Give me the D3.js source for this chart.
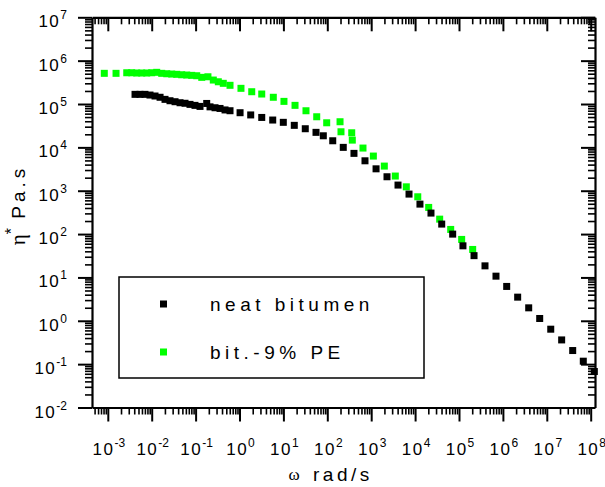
<!DOCTYPE html>
<html>
<head>
<meta charset="utf-8">
<script src="https://cdn.jsdelivr.net/npm/d3@7"></script>
<style>
  body { margin: 0; background: #fff; }
  svg { display: block; }
  .axis path, .axis line { stroke: #000; }
  .tlabel { font-family: "Liberation Sans", Arial, sans-serif; fill: #000; }
</style>
</head>
<body>
<svg id="chart"></svg>
<script>
// neat bitumen (black squares)
var neatOmega = [4.17e-3, 5.41e-3, 7.03e-3, 9.14e-3, 1.19e-2, 1.55e-2, 2.01e-2, 2.61e-2, 3.40e-2, 4.42e-2,
    5.74e-2, 7.45e-2, 9.68e-2, 0.126, 0.179, 0.213, 0.277, 0.360, 0.468, 0.608,
    1.03, 1.80, 3.21, 5.71, 9.95, 17.7, 31.5, 55.3, 81.1, 133,
    231, 405, 722, 1290, 2290, 4080, 7270, 1.29e4, 2.30e4, 4.04e4,
    7.18e4, 1.23e5, 2.20e5, 3.91e5, 6.96e5, 1.22e6, 2.17e6, 3.87e6, 6.89e6, 1.23e7,
    2.18e7, 3.89e7, 6.78e7, 1.21e8];
var neatEta = [1.67e5, 1.67e5, 1.67e5, 1.61e5, 1.53e5, 1.43e5, 1.28e5, 1.19e5, 1.13e5, 1.07e5,
    1.04e5, 9.8e4, 9.3e4, 8.8e4, 1.03e5, 8.6e4, 8.2e4, 7.9e4, 7.3e4, 7.0e4,
    6.3e4, 5.6e4, 4.9e4, 4.27e4, 3.78e4, 3.22e4, 2.69e4, 2.22e4, 1.85e4, 1.42e4,
    1.00e4, 7.27e3, 4.90e3, 3.20e3, 2.10e3, 1.35e3, 836, 491, 305, 170,
    99.8, 53.6, 31.8, 18.5, 10.7, 6.20, 3.51, 1.99, 1.13, 0.640,
    0.362, 0.206, 0.117, 0.0676];

// bitumen + 9% PE (green squares)
var peOmega = [8.32e-4, 1.54e-3, 2.70e-3, 3.50e-3, 4.55e-3, 5.92e-3, 7.69e-3, 1.00e-2, 1.30e-2, 1.69e-2,
    2.20e-2, 2.86e-2, 3.71e-2, 4.82e-2, 6.27e-2, 8.15e-2, 0.106, 0.138, 0.191, 0.253,
    0.329, 0.427, 0.608, 1.08, 1.90, 3.21, 5.89, 10.3, 18.4, 32.7,
    57.4, 96.9, 195, 205, 360, 371, 650, 1120, 1990, 3540,
    6310, 1.15e4, 2.04e4, 3.63e4, 6.47e4, 1.15e5, 2.05e5];
var peEta = [5.10e5, 5.10e5, 5.26e5, 5.26e5, 5.19e5, 5.19e5, 5.19e5, 5.26e5, 5.38e5, 5.10e5,
    4.99e5, 4.91e5, 4.84e5, 4.73e5, 4.66e5, 4.58e5, 4.49e5, 4.12e5, 4.25e5, 3.57e5,
    3.26e5, 3.00e5, 2.70e5, 2.30e5, 1.92e5, 1.70e5, 1.43e5, 1.15e5, 9.31e4, 6.99e4,
    5.08e4, 3.69e4, 3.90e4, 2.29e4, 2.17e4, 1.47e4, 9.64e3, 6.30e3, 3.70e3, 2.18e3,
    1.23e3, 725, 412, 221, 128, 75.3, 44.2];

var seriesNames = ["neat bitumen", "bit.-9% PE"];
var seriesColors = ["#000000", "#00ff00"];

// tick exponents (labels are 10^k)
var xExponents = [-3, -2, -1, 0, 1, 2, 3, 4, 5, 6, 7, 8];
var yExponents = [-2, -1, 0, 1, 2, 3, 4, 5, 6, 7];

var screen = { width: 605, height: 487 };
var frame = { left: 92, right: 595, top: 17.3, bottom: 407.5 };

var svg = d3.select("#chart")
    .attr("width", screen.width)
    .attr("height", screen.height);

var xScale = d3.scaleLog()
    .domain([Math.pow(10, -3.36), Math.pow(10, 8.098)])
    .range([frame.left, frame.right]);

var yScale = d3.scaleLog()
    .domain([1e-2, 1e7])
    .range([frame.bottom, frame.top]);

// minor ticks 2..9 x 10^k inside the domain
var minorTicks = function (scale) {
    var d = scale.domain();
    var out = [];
    for (var k = Math.floor(Math.log10(d[0])); k <= Math.ceil(Math.log10(d[1])); k++) {
        for (var m = 2; m <= 9; m++) {
            var v = m * Math.pow(10, k);
            if (v >= d[0] && v <= d[1]) out.push(v);
        }
    }
    return out;
};

var majorX = xExponents.map(function (k) { return Math.pow(10, k); });
var majorY = yExponents.map(function (k) { return Math.pow(10, k); });

var makeTranslateString = function (x, y) {
    return "translate(" + x + "," + y + ")";
};

// one axis = minor ticks + major ticks, no labels
var drawAxis = function (axisFn, scale, majors, x, y) {
    var g = svg.append("g")
        .classed("axis", true)
        .attr("transform", makeTranslateString(x, y));
    g.append("g")
        .call(axisFn(scale).tickValues(minorTicks(scale)).tickSize(7).tickSizeOuter(0).tickFormat(""))
        .call(function (s) {
            s.select(".domain").remove();
            s.selectAll("line").attr("stroke-width", 1.6);
        });
    g.append("g")
        .call(axisFn(scale).tickValues(majors).tickSize(14).tickSizeOuter(0).tickFormat(""))
        .call(function (s) {
            s.select(".domain").attr("stroke-width", 2.2);
            s.selectAll("line").attr("stroke-width", 2);
        });
};

// all ticks point the same way: down on x axes, left on y axes
drawAxis(d3.axisBottom, xScale, majorX, 0, frame.bottom);
drawAxis(d3.axisBottom, xScale, majorX, 0, frame.top);
drawAxis(d3.axisLeft, yScale, majorY, frame.left, 0);
drawAxis(d3.axisLeft, yScale, majorY, frame.right, 0);

// tick labels 10^k
var xLabels = svg.append("g").selectAll("text")
    .data(xExponents)
    .enter()
    .append("text")
    .classed("tlabel", true)
    .attr("text-anchor", "middle")
    .attr("x", function (k) { return xScale(Math.pow(10, k)) + 1; })
    .attr("y", 455);
xLabels.append("tspan").attr("font-size", 17).attr("letter-spacing", 1.5).text("10");
xLabels.append("tspan").attr("font-size", 12).attr("dy", -8).text(function (k) { return k; });

var yLabels = svg.append("g").selectAll("text")
    .data(yExponents)
    .enter()
    .append("text")
    .classed("tlabel", true)
    .attr("text-anchor", "end")
    .attr("x", 67)
    .attr("y", function (k) { return yScale(Math.pow(10, k)) + 10; });
yLabels.append("tspan").attr("font-size", 17).attr("letter-spacing", 1.5).text("10");
yLabels.append("tspan").attr("font-size", 12).attr("dy", -8).text(function (k) { return k; });

// data points
var drawSeries = function (omega, eta, color) {
    var pts = omega.map(function (w, i) { return { w: w, eta: eta[i] }; });
    svg.append("g")
        .selectAll("rect")
        .data(pts)
        .enter()
        .append("rect")
        .attr("x", function (p) { return xScale(p.w) - 3.5; })
        .attr("y", function (p) { return yScale(p.eta) - 3.5; })
        .attr("width", 7)
        .attr("height", 7)
        .attr("fill", color);
};
drawSeries(peOmega, peEta, seriesColors[1]);
drawSeries(neatOmega, neatEta, seriesColors[0]);

// axis titles
svg.append("text")
    .attr("x", 294)
    .attr("y", 480)
    .attr("text-anchor", "middle")
    .attr("font-family", "'Liberation Serif', 'Times New Roman', serif")
    .attr("font-size", 17)
    .text("\u03c9");
svg.append("text")
    .classed("tlabel", true)
    .attr("x", 313)
    .attr("y", 481)
    .attr("font-size", 19)
    .attr("letter-spacing", 3.5)
    .text("rad/s");

var yTitle = svg.append("text")
    .attr("transform", makeTranslateString(25, 205) + " rotate(-90)")
    .attr("text-anchor", "middle")
    .attr("fill", "#000");
yTitle.append("tspan")
    .attr("font-family", "'Liberation Serif', 'Times New Roman', serif")
    .attr("font-size", 21)
    .text("\u03b7");
yTitle.append("tspan")
    .attr("font-family", "'Liberation Sans', Arial, sans-serif")
    .attr("font-size", 16)
    .attr("dy", -8)
    .text("*");
yTitle.append("tspan")
    .attr("font-family", "'Liberation Sans', Arial, sans-serif")
    .attr("font-size", 19)
    .attr("letter-spacing", 4)
    .attr("dy", 8)
    .text("\u00a0Pa.s");

// legend
var legend = svg.append("g").classed("legend", true);
legend.append("rect")
    .attr("x", 119)
    .attr("y", 277)
    .attr("width", 305)
    .attr("height", 101)
    .attr("fill", "none")
    .attr("stroke", "#000")
    .attr("stroke-width", 1.5);
var entries = legend.selectAll("g")
    .data(seriesNames)
    .enter()
    .append("g")
    .attr("transform", function (d, i) { return makeTranslateString(0, 304 + i * 48); });
entries.append("rect")
    .attr("x", 160)
    .attr("y", -3.5)
    .attr("width", 7)
    .attr("height", 7)
    .attr("fill", function (d, i) { return seriesColors[i]; });
entries.append("text")
    .classed("tlabel", true)
    .attr("x", 210)
    .attr("y", 7)
    .attr("font-size", 19)
    .attr("letter-spacing", 4.5)
    .text(function (d) { return d; });
</script>
</body>
</html>
